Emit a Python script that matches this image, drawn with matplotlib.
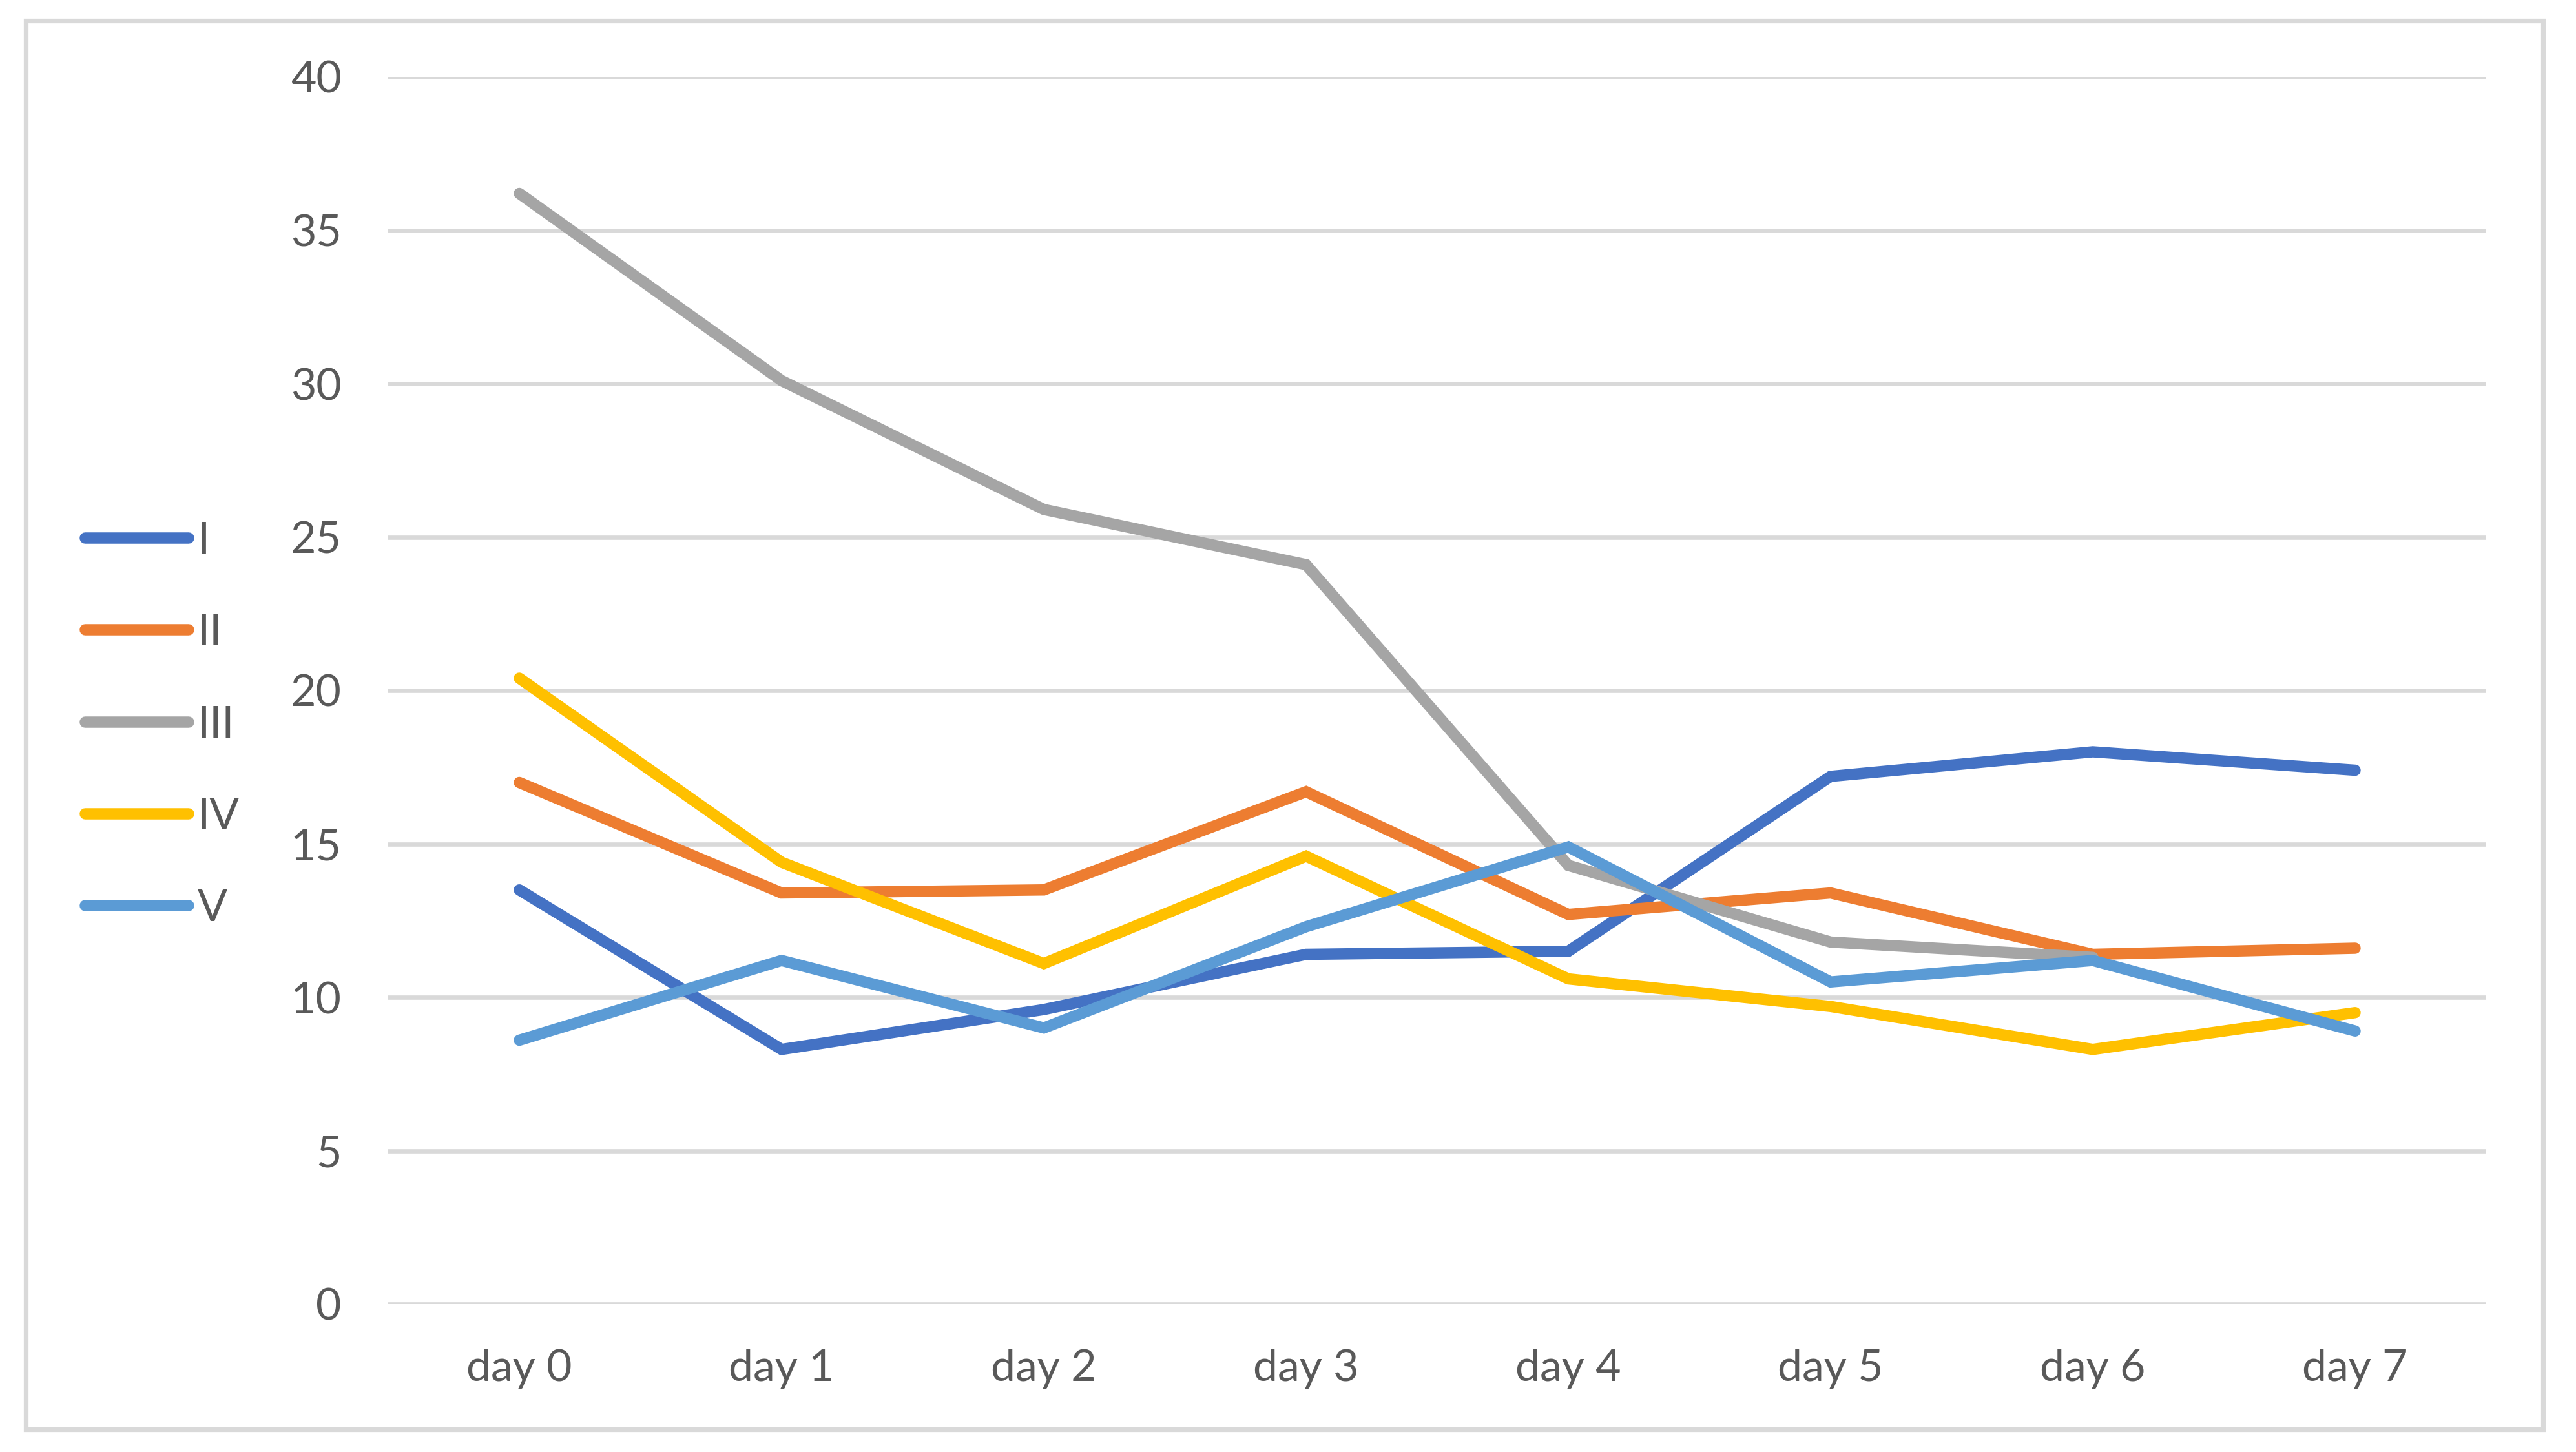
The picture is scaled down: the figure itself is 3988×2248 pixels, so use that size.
import matplotlib.pyplot as plt
from matplotlib.patches import Rectangle

# data (III has no visible point on day 7)
days = ['day 0', 'day 1', 'day 2', 'day 3', 'day 4', 'day 5', 'day 6', 'day 7']
s1 = [13.5, 8.3, 9.6, 11.4, 11.5, 17.2, 18.0, 17.4]
s2 = [17.0, 13.4, 13.5, 16.7, 12.7, 13.4, 11.4, 11.6]
s3 = [36.2, 30.1, 25.9, 24.1, 14.3, 11.8, 11.3, float('nan')]
s4 = [20.4, 14.4, 11.1, 14.6, 10.6, 9.7, 8.3, 9.5]
s5 = [8.6, 11.2, 9.0, 12.3, 14.9, 10.5, 11.2, 8.9]
names = ['I', 'II', 'III', 'IV', 'V']
colors = ['#4472C4', '#ED7D31', '#A5A5A5', '#FFC000', '#5B9BD5']
yticks = [0, 5, 10, 15, 20, 25, 30, 35, 40]

plt.rcParams['font.family'] = ['Lato', 'DejaVu Sans']
txt = '#595959'
fs = 24.5

fig = plt.figure(figsize=(19.94, 11.24), dpi=200)
W, H = 3988, 2248
ax = fig.add_axes([601 / W, 1 - 2019 / H, (3849 - 601) / W, (2019 - 119) / H])

x = list(range(len(days)))
for ys, n, c in zip([s1, s2, s3, s4, s5], names, colors):
    ax.plot(x, ys, color=c, lw=6.3, label=n, solid_capstyle='round', solid_joinstyle='miter')

ax.set_xlim(-0.5, 7.5)
ax.set_ylim(0, 40)
ax.set_yticks(yticks)
ax.set_xticks(x)
ax.set_xticklabels(days)
ax.grid(axis='y', color='#D9D9D9', lw=2.4)
ax.set_axisbelow(True)
for sp in ax.spines.values():
    sp.set_visible(False)
ax.tick_params(axis='both', length=0, labelsize=fs, colors=txt)
ax.tick_params(axis='y', pad=26)
ax.tick_params(axis='x', pad=25)

leg = ax.legend(loc='upper left', bbox_to_anchor=(132 / W, 1 - 807 / H),
                bbox_transform=fig.transFigure, frameon=False, fontsize=fs,
                handlelength=2.35, handletextpad=0.2, labelspacing=1.18,
                borderpad=0, borderaxespad=0)
for t in leg.get_texts():
    t.set_color(txt)

fig.patches.append(Rectangle((40 / W, 1 - 2213 / H), (3937 - 40) / W, (2213 - 32) / H,
                             transform=fig.transFigure, fill=False, ec='#D9D9D9', lw=2.6))

fig.savefig('out.png', dpi=200, facecolor='white')
